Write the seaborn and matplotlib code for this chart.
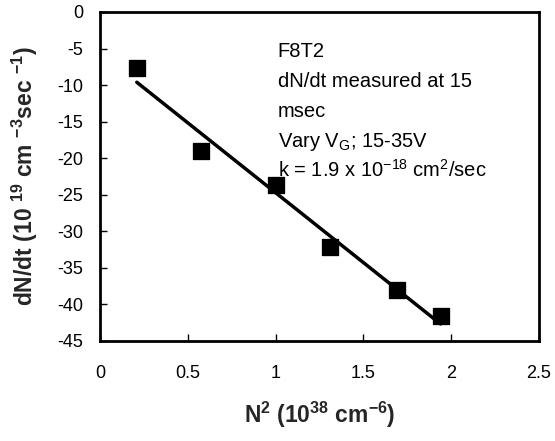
import matplotlib
matplotlib.use("Agg")
import matplotlib.pyplot as plt
import seaborn as sns
import numpy as np
import pandas as pd

# Data
n_squared = [0.21, 0.575, 1.0, 1.31, 1.69, 1.94]
dndt = [-7.7, -19.0, -23.7, -32.1, -38.0, -41.6]
x_ticks = [0, 0.5, 1, 1.5, 2, 2.5]
y_ticks = [0, -5, -10, -15, -20, -25, -30, -35, -40, -45]
note_lines = ["F8T2", "dN/dt measured at 15", "msec",
              r"Vary V$_\mathrm{G}$; 15-35V",
              r"k = 1.9 x 10$^{\mathrm{-18}}$ cm$^\mathrm{2}$/sec"]

sns.set_style("white")
plt.rcParams['font.family'] = ['Liberation Sans', 'DejaVu Sans']
plt.rcParams['mathtext.fontset'] = 'custom'
plt.rcParams['mathtext.rm'] = 'Liberation Sans'
plt.rcParams['mathtext.bf'] = 'Liberation Sans:bold'
plt.rcParams['mathtext.it'] = 'Liberation Sans:italic'

df = pd.DataFrame({"x": n_squared, "y": dndt})

fig = plt.figure(figsize=(5.55, 4.41), dpi=100)
ax = fig.add_axes([0.180, 0.2268, 0.791, 0.746])

sns.regplot(data=df, x="x", y="y", ax=ax, scatter=False, ci=None,
            line_kws=dict(color="black", lw=2.5))
sns.scatterplot(data=df, x="x", y="y", ax=ax, marker="s", s=140,
                color="black", edgecolor="black", zorder=3, legend=False)

ax.set_xlim(0, 2.5)
ax.set_ylim(-45, 0)
ax.set_xticks(x_ticks)
ax.set_xticklabels([f"{t:g}" for t in x_ticks])
ax.set_yticks(y_ticks)
ax.set_yticklabels([f"{t:g}" for t in y_ticks])

for s in ax.spines.values():
    s.set_visible(True)
    s.set_color("black")
    s.set_linewidth(2)

ax.tick_params(axis="x", direction="in", length=5, width=1, pad=17,
               labelsize=13, bottom=True, colors="black")
ax.tick_params(axis="y", direction="in", length=5, width=1, pad=12,
               labelsize=13, left=True, colors="black")

ax.set_xlabel(r"N$^\mathbf{2}$ (10$^\mathbf{38}$ cm$^\mathbf{-6}$)",
              fontsize=16.5, fontweight="bold")
ax.set_ylabel(r"dN/dt (10 $^\mathbf{19}$ cm $^\mathbf{-3}$sec $^\mathbf{-1}$)",
              fontsize=16.5, fontweight="bold")
ax.xaxis.set_label_coords(0.5, -0.225)
ax.xaxis.label.set_va("center")
ax.yaxis.set_label_coords(-0.171, 0.5)
ax.yaxis.label.set_va("center")

y0 = 0.863
for i, line in enumerate(note_lines):
    ax.text(0.405, y0 - i * 0.0912, line, transform=ax.transAxes,
            fontsize=14.5, va="baseline", ha="left", color="black")

fig.savefig("out.png", dpi=100)
